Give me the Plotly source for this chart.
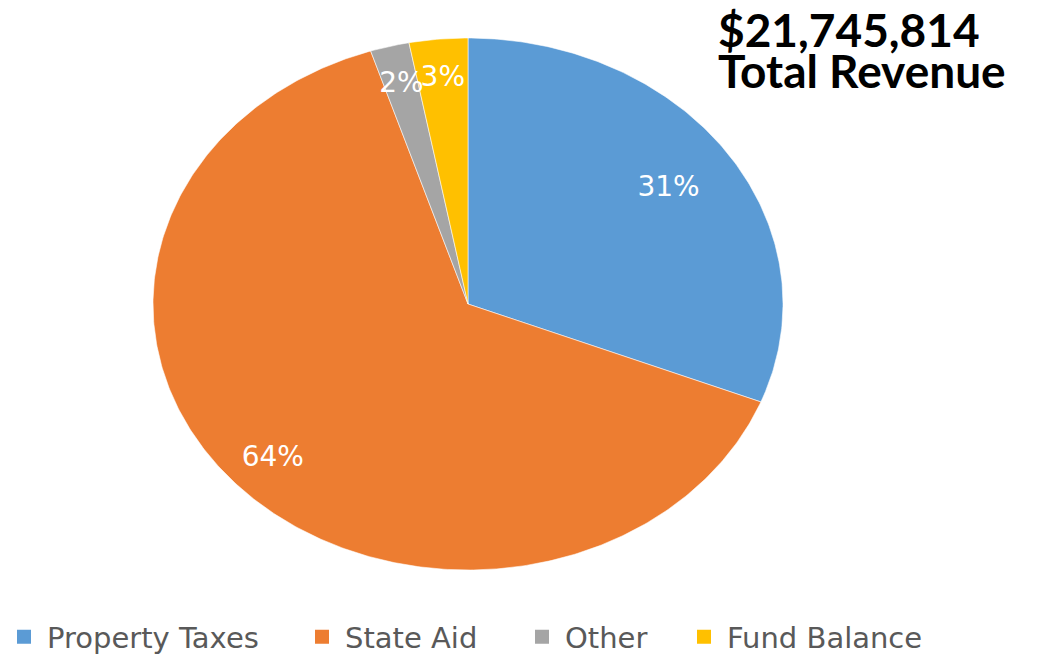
import numpy as np
import plotly.graph_objects as go

# Revenue breakdown (percent of total)
categories = ["Property Taxes", "State Aid", "Other", "Fund Balance"]
shares = [31, 64, 2, 3]
colors = ["#5B9BD5", "#ED7D31", "#A5A5A5", "#FFC000"]
total_amount = "$21,745,814"
total_caption = "Total Revenue"

# Canvas and ellipse geometry (pixel-like data units)
W, H = 1059, 654
CX, CY, RX, RY = 468, 304, 315, 266
# radial position of each percentage label, as a fraction of the radius
label_radius = [0.77, 0.85, 0.85, 0.85]

fig = go.Figure()

total = sum(shares)
cum = 0.0
lab_x, lab_y, lab_t = [], [], []
for name, v, c, lr in zip(categories, shares, colors, label_radius):
    a0 = cum / total * 2 * np.pi
    a1 = (cum + v) / total * 2 * np.pi
    t = np.linspace(a0, a1, max(int(v * 6), 12))
    xs = np.concatenate([[CX], CX + RX * np.sin(t), [CX]])
    ys = np.concatenate([[CY], CY - RY * np.cos(t), [CY]])
    fig.add_trace(go.Scatter(
        x=xs, y=ys, fill="toself", fillcolor=c, mode="lines",
        line=dict(color="rgba(255,255,255,0.7)", width=0.8), showlegend=False,
        hoverinfo="skip", name=name,
    ))
    mid = (a0 + a1) / 2
    lab_x.append(CX + lr * RX * np.sin(mid))
    lab_y.append(CY - lr * RY * np.cos(mid))
    lab_t.append(f"{v}%")
    cum += v

# Percentage labels inside the slices
fig.add_trace(go.Scatter(
    x=lab_x, y=lab_y, text=lab_t, mode="text",
    textfont=dict(family="DejaVu Sans", size=28, color="white"),
    showlegend=False, hoverinfo="skip",
))

# Legend entries
entry_widths = [247, 169, 111, 210]
for name, c, w in zip(categories, colors, entry_widths):
    fig.add_trace(go.Scatter(
        x=[None], y=[None], mode="markers", name=name,
        marker=dict(symbol="square", size=14, color=c),
        legendwidth=w,
    ))

title_font = dict(family="Lato", size=46, color="black", weight="bold")
fig.add_annotation(
    x=716, y=29, xref="x", yref="y", xanchor="left", yanchor="middle",
    text=total_amount, showarrow=False, font=title_font,
)
fig.add_annotation(
    x=716, y=70, xref="x", yref="y", xanchor="left", yanchor="middle",
    text=total_caption, showarrow=False, font=title_font,
)

fig.update_layout(
    width=W, height=H,
    margin=dict(l=0, r=0, t=0, b=0, autoexpand=False),
    paper_bgcolor="white", plot_bgcolor="white",
    xaxis=dict(range=[0, W], visible=False, fixedrange=True),
    yaxis=dict(range=[H, 0], visible=False, fixedrange=True),
    showlegend=True,
    legend=dict(
        orientation="h", x=1 / W, xanchor="left",
        y=(H - 637) / H, yanchor="middle", itemwidth=36,
        font=dict(family="DejaVu Sans", size=29, color="#595959"),
        bgcolor="rgba(0,0,0,0)", itemclick=False, itemdoubleclick=False,
    ),
)

fig.write_html("out.html")
